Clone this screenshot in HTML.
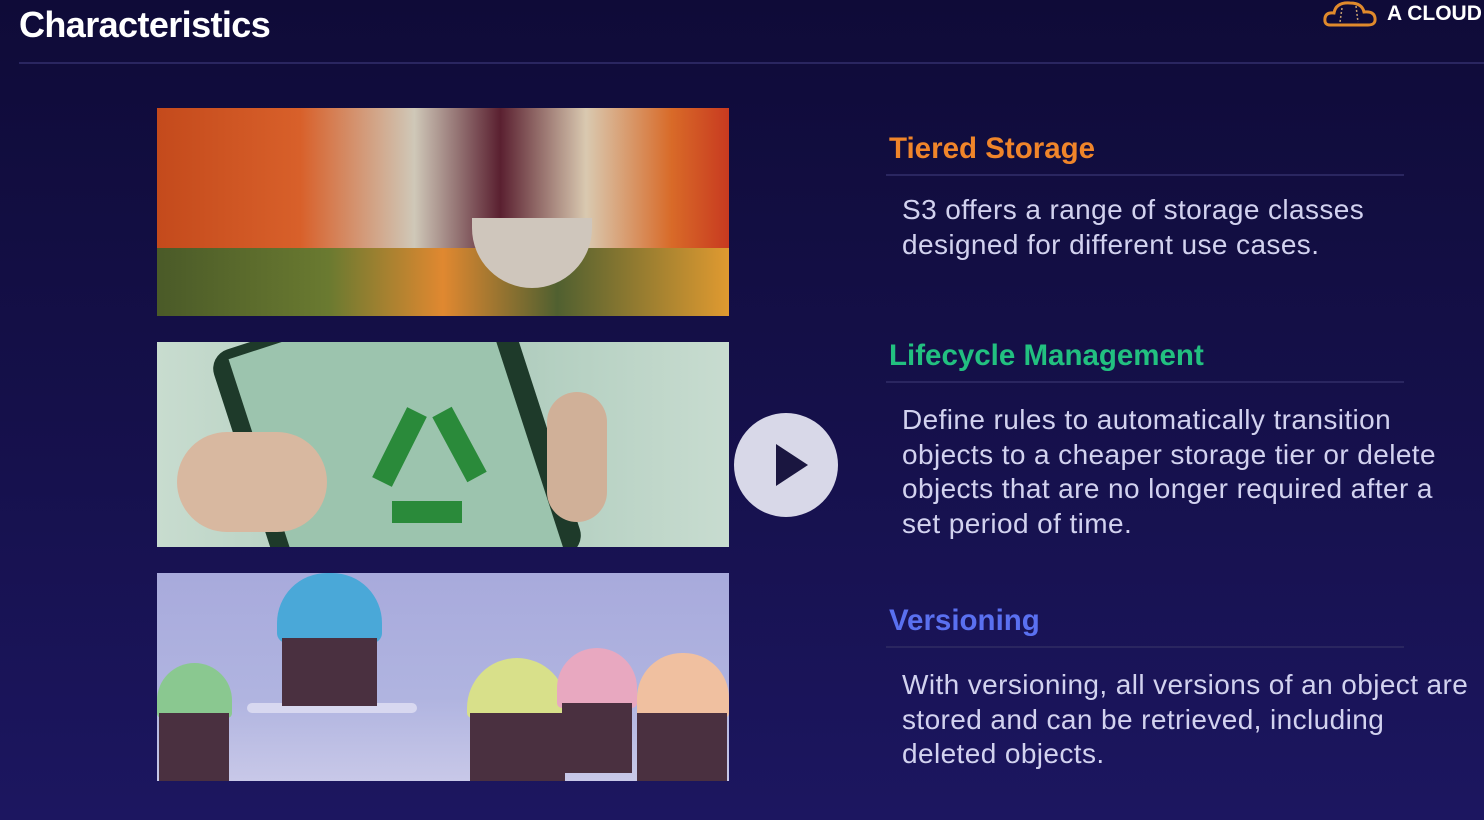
<!DOCTYPE html>
<html><head><meta charset="utf-8"><style>
*{margin:0;padding:0;box-sizing:border-box}
body{width:1484px;height:820px;overflow:hidden;background:linear-gradient(180deg,#0f0b38 0%,#15104a 50%,#1c1660 100%);font-family:"Liberation Sans",sans-serif;position:relative}
.abs{position:absolute}
h1{position:absolute;left:19px;top:4px;font-size:36px;color:#fff;font-weight:bold;letter-spacing:-0.6px;white-space:nowrap}
.hr{position:absolute;height:2px;background:#2a2660}
.h{position:absolute;font-size:29.5px;font-weight:bold;white-space:nowrap}
.p{position:absolute;left:902px;font-size:28px;letter-spacing:0.4px;line-height:34.5px;color:#d2d2ef;white-space:nowrap}
.img{position:absolute;left:157px;width:572px;overflow:hidden}
</style></head><body>
<h1>Characteristics</h1>
<svg class="abs" style="left:1322px;top:0" width="58" height="28"><path d="M8 25 Q2 25 3 18 Q4 12 12 13 Q14 2 28 3 Q40 3 42 12 Q52 11 53 18 Q54 25 46 25 Z" fill="none" stroke="#e08a2c" stroke-width="3"/><path d="M20 8 L18 22 M34 6 L36 22" stroke="#c8a070" stroke-dasharray="2 2" stroke-width="1.5"/></svg>
<div class="abs" style="left:1387px;top:2px;color:#fff;font-weight:bold;font-size:21px;white-space:nowrap">A CLOUD</div>
<div class="hr" style="left:19px;top:62px;width:1465px"></div>

<div class="img" style="top:108px;height:208px;background:linear-gradient(90deg,#c44a1c 0%,#d8602a 25%,#cfc8b8 45%,#5a2030 60%,#d9c9b0 75%,#d86a28 90%,#c83a20 100%)">
<div class="abs" style="left:0;top:140px;width:572px;height:68px;background:linear-gradient(90deg,#4a5a28,#6a7a30 30%,#e08830 50%,#506030 70%,#e09a30)"></div>
<div class="abs" style="left:315px;top:110px;width:120px;height:70px;border-radius:0 0 60px 60px;background:#cfc6bc"></div>
</div>

<div class="img" style="top:342px;height:205px;background:linear-gradient(90deg,#c8dccf,#a8c8b8 50%,#c8dcd0)">
<div class="abs" style="left:90px;top:-40px;width:300px;height:300px;transform:rotate(-18deg);background:#1e3a2a;border-radius:20px"></div>
<div class="abs" style="left:110px;top:-30px;width:260px;height:290px;transform:rotate(-18deg);background:#9cc4ae"></div>
<svg class="abs" style="left:180px;top:30px" width="180" height="170"><g fill="none" stroke="#2a8a3a" stroke-width="22"><path d="M45 110 L80 40"/><path d="M105 40 L140 105"/><path d="M125 140 L55 140"/></g></svg>
<div class="abs" style="left:20px;top:90px;width:150px;height:100px;border-radius:50px;background:#d8b8a0"></div>
<div class="abs" style="left:390px;top:50px;width:60px;height:130px;border-radius:30px;background:#d0b098"></div>
</div>

<div class="img" style="top:573px;height:208px;background:linear-gradient(180deg,#a8aadc,#b0b4e0 60%,#c8c8e8)">
<div class="abs" style="left:90px;top:130px;width:170px;height:10px;background:#d8d8f0;border-radius:5px"></div>
<div class="abs" style="left:120px;top:0;width:105px;height:70px;border-radius:50px 50px 10px 10px;background:#4aa8d8"></div>
<div class="abs" style="left:125px;top:65px;width:95px;height:68px;background:#4a3040"></div>
<div class="abs" style="left:0;top:90px;width:75px;height:55px;border-radius:40px 40px 5px 5px;background:#8ac890"></div>
<div class="abs" style="left:2px;top:140px;width:70px;height:68px;background:#4a3040"></div>
<div class="abs" style="left:310px;top:85px;width:100px;height:60px;border-radius:50px 50px 5px 5px;background:#d8e08a"></div>
<div class="abs" style="left:313px;top:140px;width:95px;height:68px;background:#4a3040"></div>
<div class="abs" style="left:400px;top:75px;width:80px;height:60px;border-radius:40px 40px 5px 5px;background:#e8a8c0"></div>
<div class="abs" style="left:405px;top:130px;width:70px;height:70px;background:#4a3040"></div>
<div class="abs" style="left:480px;top:80px;width:92px;height:65px;border-radius:45px 45px 5px 5px;background:#f0c0a0"></div>
<div class="abs" style="left:480px;top:140px;width:90px;height:68px;background:#4a3040"></div>
</div>

<div class="abs" style="left:734px;top:413px;width:104px;height:104px;border-radius:50%;background:#d8d8e8"></div>
<svg class="abs" style="left:734px;top:413px" width="104" height="104"><path d="M42 31 L74 52 L42 73 Z" fill="#1a1640"/></svg>

<div class="h" style="left:889px;top:132px;color:#f0852a">Tiered Storage</div>
<div class="hr" style="left:886px;top:174px;width:518px"></div>
<div class="p" style="top:193px">S3 offers a range of storage classes<br>designed for different use cases.</div>

<div class="h" style="left:889px;top:339px;color:#22c080">Lifecycle Management</div>
<div class="hr" style="left:886px;top:381px;width:518px"></div>
<div class="p" style="top:403px">Define rules to automatically transition<br>objects to a cheaper storage tier or delete<br>objects that are no longer required after a<br>set period of time.</div>

<div class="h" style="left:889px;top:604px;color:#5a70f0">Versioning</div>
<div class="hr" style="left:886px;top:646px;width:518px"></div>
<div class="p" style="top:668px">With versioning, all versions of an object are<br>stored and can be retrieved, including<br>deleted objects.</div>
</body></html>
